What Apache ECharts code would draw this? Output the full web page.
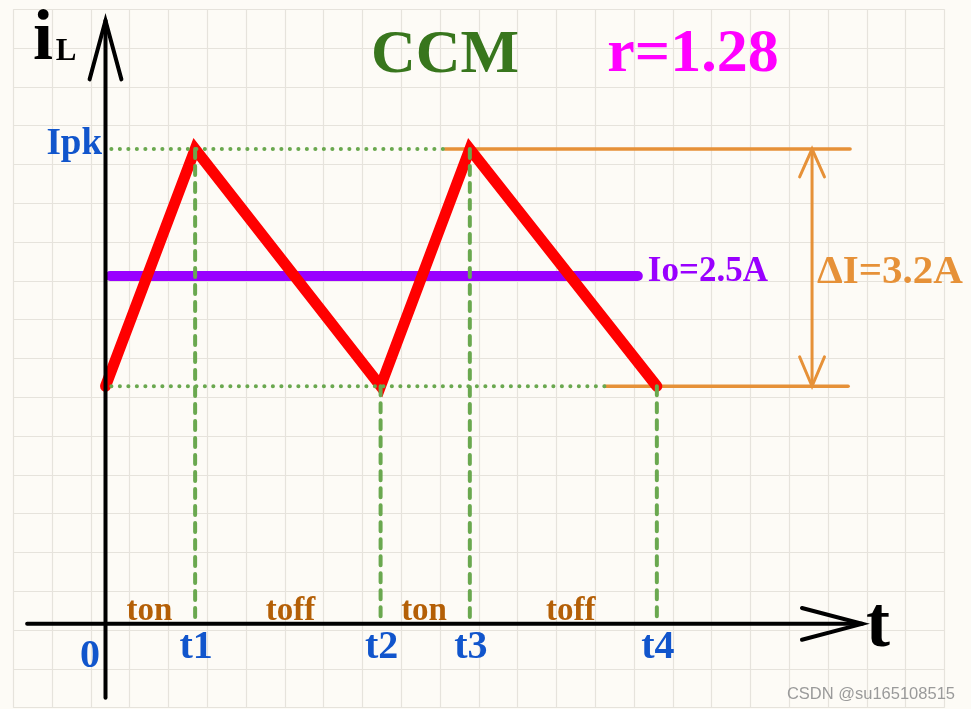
<!DOCTYPE html>
<html><head><meta charset="utf-8">
<script src="https://cdn.jsdelivr.net/npm/echarts@6/dist/echarts.min.js"></script>
<style>html,body{margin:0;padding:0;background:#fdfbf6}#c{width:971px;height:709px}</style>
</head><body><div id="c"></div>
<script>
// ---------- data (schematic units: 1 unit = one background grid cell) ----------
const tickNames = ['0', 't1', 't2', 't3', 't4'];
const tickTimes = [0, 2.31, 7.09, 9.39, 14.21];
const iLCurrent = [6.14, 12.27, 6.14, 12.27, 6.14];
const Ipk = 12.27;
const Ivalley = 6.14;
const IoLevel = 8.99;
const IoSpan = [0.12, 13.72];
const phaseNames = ['ton', 'toff', 'ton', 'toff'];
const phaseTimes = [1.13, 4.77, 8.21, 11.99];
const peakGuideSpan = [0.15, 8.75];
const valleyGuideSpan = [0.15, 12.87];
const dIRefTop = [8.75, 19.19];
const dIRefBottom = [12.87, 19.14];
const dIArrowTime = 18.21;
const xAxisSpan = [-2.02, 19.5];
const yAxisSpan = [-1.91, 15.59];
const textIpk = 'Ipk', textIo = 'Io=2.5A', textDI = 'ΔI=3.2A';
const textMode = 'CCM', textRatio = 'r=1.28', textMark = 'CSDN @su165108515';
const axisNameX = 't', axisNameY = ['i', 'L'];

// ---------- styling ----------
const SERIF = '"Liberation Serif","Times New Roman",serif';
const BLUE = '#1155cc', BROWN = '#b45f06', GREEN = '#6aa84f', ORANGE = '#e69138',
      PURPLE = '#9900ff', RED = '#ff0000', MAGENTA = '#ff00ff', DKGREEN = '#38761d';
const CELL = 38.8;
const ORIGIN = [105.5, 625.5];
const X_MIN = -2.5, X_MAX = 22, Y_MIN = -2.2, Y_MAX = 16;

const chart = echarts.init(document.getElementById('c'), null, {renderer: 'canvas'});

function seg(pts, color, width, type, extra) {
  return Object.assign({
    type: 'line', xAxisIndex: 1, yAxisIndex: 1, data: pts, symbol: 'none', silent: true,
    lineStyle: {color: color, width: width, type: type || 'solid', cap: 'round', join: 'miter', opacity: 1},
    z: 3
  }, extra || {});
}

const series = [];
// green dotted guides
series.push(seg([[peakGuideSpan[0], Ipk], [peakGuideSpan[1], Ipk]], GREEN, 4, [0.1, 8.4], {z: 5}));
series.push(seg([[valleyGuideSpan[0], Ivalley], [valleyGuideSpan[1], Ivalley]], GREEN, 4, [0.1, 8.4], {z: 5}));
// green dashed verticals
for (let i = 1; i < tickTimes.length; i++) {
  series.push(seg([[tickTimes[i], iLCurrent[i]], [tickTimes[i], 0]], GREEN, 4, [9, 8], {z: 5}));
}
// orange reference lines and arrow
series.push(seg([[dIRefTop[0], Ipk], [dIRefTop[1], Ipk]], ORANGE, 3.5));
series.push(seg([[dIRefBottom[0], Ivalley], [dIRefBottom[1], Ivalley]], ORANGE, 3.5));
series.push(seg([[dIArrowTime, Ipk], [dIArrowTime, Ivalley]], ORANGE, 3));
series.push(seg([[dIArrowTime - 0.32, Ipk - 0.72], [dIArrowTime, Ipk], [dIArrowTime + 0.32, Ipk - 0.72]], ORANGE, 3));
series.push(seg([[dIArrowTime - 0.32, Ivalley + 0.76], [dIArrowTime, Ivalley], [dIArrowTime + 0.32, Ivalley + 0.76]], ORANGE, 3));
// output current
series.push(seg([[IoSpan[0], IoLevel], [IoSpan[1], IoLevel]], PURPLE, 10, 'solid', {z: 4}));
// inductor current
series.push(seg(tickTimes.map((t, i) => [t, iLCurrent[i]]), RED, 11, 'solid', {z: 4.5}));
// axes
series.push(seg([[xAxisSpan[0], 0], [xAxisSpan[1], 0]], '#000', 4, 'solid', {z: 6}));
series.push(seg([[xAxisSpan[1] - 1.55, 0.41], [xAxisSpan[1], 0], [xAxisSpan[1] - 1.55, -0.41]], '#000', 4, 'solid', {z: 6}));
series.push(seg([[0, yAxisSpan[0]], [0, yAxisSpan[1]]], '#000', 4, 'solid', {z: 6}));
series.push(seg([[-0.41, yAxisSpan[1] - 1.52], [0, yAxisSpan[1]], [0.41, yAxisSpan[1] - 1.52]], '#000', 4, 'solid', {z: 6}));

// text annotations anchored to data
function lab(value, text, opts) {
  return {value: value, label: Object.assign({show: true, formatter: text, position: 'inside',
    fontFamily: SERIF, fontWeight: 'bold', opacity: 1, textBorderWidth: 0}, opts)};
}
const notes = [];
notes.push(lab([0, Ipk], textIpk, {position: 'left', distance: 3.5, fontSize: 37, color: BLUE, offset: [0, -5]}));
notes.push(lab([0, 0], tickNames[0], {fontSize: 40, color: BLUE, offset: [-15.5, 33]}));
for (let i = 1; i < tickTimes.length; i++) {
  notes.push(lab([tickTimes[i], 0], tickNames[i], {fontSize: 40, color: BLUE, offset: [1, 24]}));
}
phaseNames.forEach((p, i) => notes.push(lab([phaseTimes[i], 0], p, {fontSize: 33, color: BROWN, offset: [0, -12.5]})));
notes.push(lab([IoSpan[1], IoLevel], textIo, {position: 'right', distance: 10, fontSize: 35, color: PURPLE, offset: [0, -4]}));
notes.push(lab([dIArrowTime, (Ipk + Ivalley) / 2], textDI, {position: 'right', distance: 5, fontSize: 41, color: ORANGE, offset: [0, 5]}));
notes.push(lab([xAxisSpan[1], 0], axisNameX, {position: 'right', distance: 4, fontSize: 72, color: '#000', offset: [0, 4]}));
notes.push(lab([0, yAxisSpan[1]], axisNameY[0], {fontSize: 72, color: '#000', offset: [-62.5, 20]}));
notes.push(lab([0, yAxisSpan[1]], axisNameY[1], {fontSize: 31, color: '#000', offset: [-39.5, 31]}));
series.push({type: 'scatter', xAxisIndex: 1, yAxisIndex: 1, symbolSize: 0, silent: true,
  itemStyle: {color: 'transparent', opacity: 1}, data: notes, z: 10});

const option = {
  backgroundColor: '#fdfbf6',
  animation: false,
  grid: [
    {left: 13.3, top: 9.3, width: CELL * 24, height: CELL * 18, show: false},
    {left: ORIGIN[0] + X_MIN * CELL, top: ORIGIN[1] - Y_MAX * CELL,
     width: (X_MAX - X_MIN) * CELL, height: (Y_MAX - Y_MIN) * CELL, show: false}
  ],
  xAxis: [
    {gridIndex: 0, type: 'value', min: 0, max: 24, interval: 1, axisLine: {show: false},
     axisTick: {show: false}, axisLabel: {show: false},
     splitLine: {show: true, lineStyle: {color: '#e6e3dc', width: 1.2}}},
    {gridIndex: 1, type: 'value', min: X_MIN, max: X_MAX, show: false}
  ],
  yAxis: [
    {gridIndex: 0, type: 'value', min: 0, max: 18, interval: 1, axisLine: {show: false},
     axisTick: {show: false}, axisLabel: {show: false},
     splitLine: {show: true, lineStyle: {color: '#e6e3dc', width: 1.2}}},
    {gridIndex: 1, type: 'value', min: Y_MIN, max: Y_MAX, show: false}
  ],
  graphic: [
    {type: 'text', z: 10, style: {text: textMode, x: 445, y: 56, textAlign: 'center', textVerticalAlign: 'middle',
      font: 'bold 62px ' + SERIF, fill: DKGREEN}},
    {type: 'text', z: 10, style: {text: textRatio, x: 693, y: 55, textAlign: 'center', textVerticalAlign: 'middle',
      font: 'bold 62px ' + SERIF, fill: MAGENTA}},
    {type: 'text', z: 10, style: {text: textMark, x: 955, y: 694, textAlign: 'right', textVerticalAlign: 'middle',
      font: '16.5px "Liberation Sans",Arial,sans-serif', fill: '#9a9a9a'}}
  ],
  series: series
};
chart.setOption(option);
</script>
</body></html>
